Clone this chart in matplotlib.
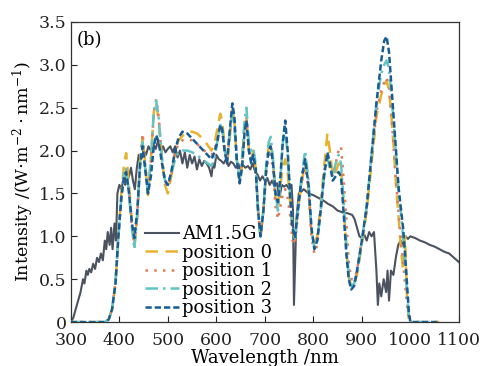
import matplotlib
matplotlib.use("Agg")
import matplotlib.pyplot as plt

plt.rcParams['font.family'] = ['DejaVu Serif']
plt.rcParams['mathtext.fontset'] = 'dejavuserif'

# AM1.5G reference spectrum
am_wl = [300, 305, 310, 315, 320, 325, 328, 332, 335, 338, 342, 346, 350, 354, 358, 362, 366, 370, 373, 376,
         380, 383, 386, 390, 393, 396, 400, 404, 408, 412, 416, 420, 424, 428, 432, 436, 440, 445, 450, 455,
         460, 465, 470, 475, 480, 485, 490, 495, 500, 505, 510, 515, 520, 525, 530, 535, 540, 545, 550, 555,
         560, 565, 570, 575, 580, 585, 590, 593, 596, 600, 605, 610, 615, 620, 625, 630, 635, 640, 645, 650,
         655, 660, 665, 670, 675, 680, 685, 690, 695, 700, 705, 710, 715, 720, 725, 730, 735, 740, 745, 750,
         755, 758, 760, 762, 765, 770, 775, 780, 790, 800, 810, 820, 830, 840, 850, 860, 870, 880, 885, 890,
         895, 900, 905, 910, 915, 920, 925, 930, 933, 936, 940, 945, 950, 953, 956, 960, 965, 970, 975, 980,
         985, 990, 995, 1000, 1010, 1020, 1030, 1040, 1050, 1060, 1070, 1080, 1090, 1100]
am_val = [0.0, 0.05, 0.15, 0.25, 0.35, 0.5, 0.45, 0.6, 0.55, 0.62, 0.58, 0.68, 0.62, 0.75, 0.7, 0.8, 0.72, 0.95, 0.85, 1.05,
          0.9, 1.1, 0.85, 1.15, 0.95, 1.5, 1.6, 1.55, 1.65, 1.6, 1.75, 1.7, 1.8, 1.65, 1.55, 1.8, 1.95, 1.9, 2.0, 1.95,
          2.05, 2.0, 2.08, 2.02, 2.12, 2.0, 2.05, 1.98, 2.02, 2.05, 1.98, 2.05, 1.92, 2.0, 1.85, 1.98, 1.8, 1.95, 1.85, 1.93,
          1.78, 1.9, 1.82, 1.88, 1.85, 1.8, 1.7, 1.85, 1.8, 1.95, 1.9, 1.88, 1.85, 1.9, 1.82, 1.87, 1.85, 1.8, 1.85, 1.78,
          1.83, 1.8, 1.82, 1.78, 1.85, 1.75, 1.72, 1.65, 1.7, 1.65, 1.68, 1.6, 1.65, 1.58, 1.62, 1.45, 1.6, 1.58, 1.6, 1.55,
          1.6, 1.3, 0.2, 0.6, 1.2, 1.5, 1.52, 1.55, 1.5, 1.48, 1.45, 1.42, 1.38, 1.35, 1.3, 1.28, 1.27, 1.25, 1.2, 1.1,
          1.0, 0.98, 1.02, 0.95, 1.05, 1.0, 1.05, 0.6, 0.2, 0.45, 0.3, 0.5, 0.35, 0.6, 0.25, 0.6, 0.55, 0.75, 0.9, 0.95,
          0.9, 1.0, 0.97, 1.0, 0.98, 0.95, 0.93, 0.9, 0.88, 0.85, 0.82, 0.8, 0.75, 0.7]

# common wavelength grid for the four positions
pos_wl = [300, 370, 378, 385, 392, 398, 404, 410, 414, 420,
          426, 431, 437, 443, 448, 454, 459, 465, 471, 476,
          481, 488, 494, 500, 507, 515, 522, 530, 540, 550,
          560, 570, 580, 590, 596, 602, 608, 612, 617, 622,
          627, 633, 637, 642, 648, 653, 658, 662, 667, 672,
          676, 681, 686, 691, 697, 703, 708, 712, 717, 722,
          727, 732, 737, 742, 747, 752, 757, 762, 768, 775,
          783, 790, 796, 802, 808, 815, 822, 829, 834, 840,
          846, 852, 857, 862, 868, 873, 878, 884, 890, 900,
          910, 920, 930, 940, 946, 951, 956, 961, 966, 971,
          976, 980, 985, 989, 993, 997, 1000, 1060]

pos0 = [0, 0, 0.03, 0.15, 0.45, 1.0, 1.5, 1.85, 1.97, 1.6,
        1.15, 0.88, 1.25, 1.9, 2.15, 1.8, 1.48, 1.9, 2.45, 2.55,
        2.35, 1.9, 1.6, 1.5, 1.7, 2.0, 2.12, 2.17, 2.22, 2.22,
        2.2, 2.15, 2.08, 2.0, 2.08, 2.25, 2.43, 2.35, 2.05, 1.85,
        2.1, 2.5, 2.35, 1.9, 1.62, 1.85, 2.3, 2.4, 2.0, 1.9,
        2.0, 1.8, 1.3, 0.98, 1.3, 1.8, 2.05, 2.1, 1.85, 1.45,
        1.35, 1.6, 1.8, 1.9, 1.75, 1.4, 1.05, 0.98, 1.3, 1.6,
        1.85, 1.55, 1.05, 0.92, 1.0, 1.35, 1.8, 2.2, 2.0, 1.7,
        1.75, 1.85, 1.8, 1.4, 0.85, 0.52, 0.42, 0.45, 0.55, 0.9,
        1.3, 1.85, 2.4, 2.65, 2.75, 2.82, 2.7, 2.4, 2.0, 1.55,
        1.2, 0.9, 0.6, 1.0, 0.3, 0.0, 0.0, 0.0]

pos1 = [0, 0, 0.03, 0.15, 0.45, 1.0, 1.45, 1.75, 1.8, 1.5,
        1.1, 0.9, 1.25, 1.9, 2.2, 1.8, 1.5, 1.85, 2.45, 2.6,
        2.4, 1.9, 1.62, 1.58, 1.72, 1.98, 2.08, 2.12, 2.13, 2.12,
        2.08, 2.02, 1.98, 1.95, 2.0, 2.15, 2.3, 2.25, 2.0, 1.85,
        2.15, 2.5, 2.35, 1.9, 1.62, 1.85, 2.3, 2.4, 2.0, 1.9,
        1.95, 1.8, 1.3, 1.0, 1.3, 1.75, 1.95, 2.0, 1.75, 1.35,
        1.2, 1.35, 1.5, 1.55, 1.45, 1.25, 0.95, 0.9, 1.25, 1.6,
        1.85, 1.55, 1.0, 0.8, 0.9, 1.3, 1.75, 1.95, 1.8, 1.7,
        1.85, 2.0, 2.05, 1.7, 1.2, 0.7, 0.5, 0.5, 0.6, 0.95,
        1.3, 1.9, 2.45, 2.7, 2.8, 2.85, 2.75, 2.4, 2.0, 1.6,
        1.25, 1.0, 0.7, 0.45, 0.2, 0.0, 0.0, 0.0]

pos2 = [0, 0, 0.03, 0.15, 0.45, 1.0, 1.45, 1.75, 1.8, 1.5,
        1.1, 0.85, 1.25, 1.9, 2.1, 1.75, 1.5, 1.9, 2.45, 2.58,
        2.38, 1.9, 1.65, 1.6, 1.72, 1.9, 1.98, 2.0, 2.0, 1.98,
        1.95, 1.9, 1.86, 1.82, 1.9, 2.1, 2.3, 2.25, 2.0, 1.9,
        2.15, 2.45, 2.3, 1.9, 1.65, 1.9, 2.35, 2.5, 2.1, 2.0,
        2.03, 1.85, 1.3, 1.0, 1.3, 1.85, 2.1, 2.16, 1.9, 1.5,
        1.3, 1.65, 2.1, 2.25, 1.95, 1.5, 1.1, 0.98, 1.3, 1.65,
        2.0, 1.65, 1.1, 0.88, 0.95, 1.3, 1.7, 1.92, 1.8, 1.7,
        1.85, 1.95, 1.85, 1.45, 0.9, 0.55, 0.42, 0.45, 0.58, 0.95,
        1.35, 1.95, 2.55, 2.9, 3.0, 3.05, 2.95, 2.65, 2.3, 1.9,
        1.5, 1.3, 1.0, 0.7, 0.35, 0.05, 0.0, 0.0]

pos3 = [0, 0, 0.03, 0.15, 0.45, 1.0, 1.45, 1.7, 1.75, 1.5,
        1.15, 0.98, 1.3, 1.85, 2.05, 1.75, 1.5, 1.7, 2.05, 2.18,
        2.1, 1.85, 1.65, 1.6, 1.75, 2.0, 2.15, 2.22, 2.2, 2.14,
        2.08, 2.02, 1.96, 1.9, 1.98, 2.1, 2.3, 2.25, 2.0, 1.85,
        2.2, 2.55, 2.4, 1.9, 1.62, 1.8, 2.2, 2.35, 2.0, 1.85,
        1.95, 1.8, 1.3, 1.0, 1.3, 1.8, 2.0, 2.05, 1.85, 1.5,
        1.4, 1.7, 2.1, 2.35, 2.0, 1.5, 1.1, 0.98, 1.3, 1.65,
        1.9, 1.6, 1.1, 0.85, 0.95, 1.3, 1.7, 1.98, 1.85, 1.65,
        1.7, 1.75, 1.7, 1.3, 0.8, 0.5, 0.38, 0.42, 0.6, 0.95,
        1.35, 1.95, 2.55, 3.05, 3.28, 3.33, 3.15, 2.75, 2.35, 1.95,
        1.55, 1.35, 1.1, 0.8, 0.45, 0.1, 0.0, 0.0]

labels = ['AM1.5G', 'position 0', 'position 1', 'position 2', 'position 3']
colors = ['#4b5260', '#e8b22e', '#e07a5c', '#62c4c4', '#175c93']
x_ticks = [300, 400, 500, 600, 700, 800, 900, 1000, 1100]
y_ticks = [0, 0.5, 1.0, 1.5, 2.0, 2.5, 3.0, 3.5]
y_ticklabels = ['0', '0.5', '1.0', '1.5', '2.0', '2.5', '3.0', '3.5']

fig = plt.figure(figsize=(4.82, 3.66), dpi=100)
ax = fig.add_axes([0.147, 0.120, 0.805, 0.820])

ax.plot(am_wl, am_val, color=colors[0], lw=1.5, label=labels[0], zorder=2)
ax.plot(pos_wl, pos0, color=colors[1], lw=1.8, ls=(0, (5, 3)), label=labels[1], zorder=3)
ax.plot(pos_wl, pos1, color=colors[2], lw=1.8, ls=(0, (1, 2.5)), label=labels[2], zorder=3)
ax.plot(pos_wl, pos2, color=colors[3], lw=1.8, ls=(0, (5, 2, 1, 2)), label=labels[3], zorder=3)
ax.plot(pos_wl, pos3, color=colors[4], lw=1.8, ls=(0, (2.5, 1.2)), label=labels[4], zorder=4)

ax.set_xlim(300, 1100)
ax.set_ylim(0, 3.5)
ax.set_xticks(x_ticks)
ax.set_yticks(y_ticks)
ax.set_yticklabels(y_ticklabels)
ax.tick_params(direction='in', length=4, width=0.8, labelsize=12.5, colors='#222222')
ax.tick_params(axis='x', pad=7)
ax.tick_params(axis='y', pad=3)
for s in ax.spines.values():
    s.set_color('#333333')
    s.set_linewidth(0.9)

ax.set_xlabel('Wavelength /nm', fontsize=13, labelpad=0.5)
ax.set_ylabel(r'Intensity /(W$\cdot$m$^{-2}\cdot$nm$^{-1}$)', fontsize=12.5, labelpad=2)
ax.text(0.015, 0.94, '(b)', transform=ax.transAxes, fontsize=13, va='center', ha='left')

leg = ax.legend(loc='upper left', bbox_to_anchor=(0.19, 0.322), frameon=False, fontsize=13,
                handlelength=1.9, handletextpad=0.17, labelspacing=0.02, borderpad=0.0, borderaxespad=0)

fig.savefig('out.png', dpi=100)
